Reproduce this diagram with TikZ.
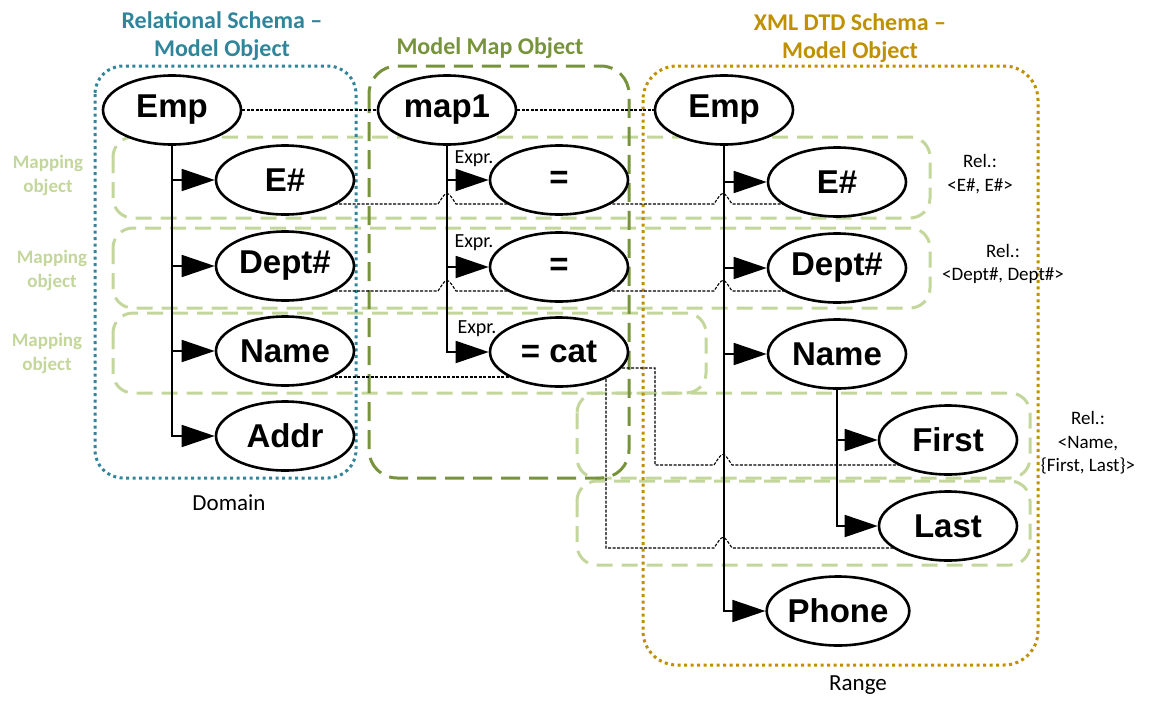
\documentclass[tikz,border=0pt]{standalone}
\usepackage{fontspec}
\setmainfont{Carlito}
\newfontfamily\scanfont{Liberation Sans}
\usetikzlibrary{shapes.geometric,arrows.meta,backgrounds}
\definecolor{relblue}{RGB}{49,133,155}
\definecolor{mapolive}{RGB}{119,147,60}
\definecolor{mapgreen}{RGB}{195,214,155}
\definecolor{xmlgold}{RGB}{191,144,0}

\begin{document}
\begin{tikzpicture}[x=1pt,y=-1pt, every node/.style={inner sep=0pt},
	elem/.style={ellipse,draw,line width=2.6pt,fill=white,minimum width=138pt,minimum height=69pt,
		font=\scanfont\bfseries\fontsize{33}{33}\selectfont},
	sub/.style={line width=1.8pt,-{Triangle[length=33pt,width=22pt]}},
	mapline/.style={line width=1.1pt,dash pattern=on 3pt off 1.5pt},
	mapbox/.style={draw=mapgreen,line width=3pt,dash pattern=on 16pt off 9pt,rounded corners=20pt},
	schema/.style={line width=3pt,rounded corners=28pt},
	ttl/.style={font=\bfseries\fontsize{24}{28}\selectfont,align=center},
	molbl/.style={font=\bfseries\fontsize{19}{24}\selectfont,align=center,mapgreen},
	lbl/.style={font=\fontsize{19}{23.5}\selectfont,align=center},
	expr/.style={font=\fontsize{20}{20}\selectfont}]
	\useasboundingbox (0,0) rectangle (1149,710);

	\node[elem] (rEmp)  at (172,110) {Emp};
	\node[elem] (rE)    at (285,180) {E\#};
	\node[elem] (rDept) at (285,266) {Dept\#};
	\node[elem] (rName) at (285,351) {Name};
	\node[elem] (rAddr) at (285,436) {Addr};

	\node[elem] (mMap) at (447,110) {map1};
	\node[elem] (mEq1) at (559,180) {=};
	\node[elem] (mEq2) at (559,267) {=};
	\node[elem] (mCat) at (559,352) {= cat};

	\node[elem] (lEmp)   at (724,110) {Emp};
	\node[elem] (lE)     at (837,182) {E\#};
	\node[elem] (lDept)  at (837,268) {Dept\#};
	\node[elem] (lName)  at (837,354) {Name};
	\node[elem] (lFirst) at (948,440) {First};
	\node[elem] (lLast)  at (948,526) {Last};
	\node[elem] (lPhone) at (838,611) {Phone};

	\draw[sub] (rEmp.south) |- (rE.west);
	\draw[sub] (rEmp.south) |- (rDept.west);
	\draw[sub] (rEmp.south) |- (rName.west);
	\draw[sub] (rEmp.south) |- (rAddr.west);
	\draw[sub] (mMap.south) |- (mEq1.west);
	\draw[sub] (mMap.south) |- (mEq2.west);
	\draw[sub] (mMap.south) |- (mCat.west);
	\draw[sub] (lEmp.south) |- (lE.west);
	\draw[sub] (lEmp.south) |- (lDept.west);
	\draw[sub] (lEmp.south) |- (lName.west);
	\draw[sub] (lEmp.south) |- (lPhone.west);
	\draw[sub] (lName.south) |- (lFirst.west);
	\draw[sub] (lName.south) |- (lLast.west);

	\node[expr] (x1) at (474,159) {Expr.};
	\node[expr] (x2) at (474,243) {Expr.};
	\node[expr] (x3) at (477,329) {Expr.};

	\node[ttl,relblue]  (tRel) at (222,36) {Relational Schema \textendash\\Model Object};
	\node[ttl,mapolive] (tMap) at (490,48) {Model Map Object};
	\node[ttl,xmlgold]  (tXml) at (850,38) {XML DTD Schema \textendash\\Model Object};

	\node[molbl] (mo1) at (48,175) {Mapping\\object};
	\node[molbl] (mo2) at (52,270) {Mapping\\object};
	\node[molbl] (mo3) at (47,353) {Mapping\\object};

	\node[lbl] (rel1) at (980,174) {Rel.:\\<E\#, E\#>};
	\node[lbl] (rel2) at (1003,264) {Rel.:\\<Dept\#, Dept\#>};
	\node[lbl] (rel3) at (1088,443) {Rel.:\\<Name,\\\{First, Last\}>};

	\node[lbl,font=\fontsize{23}{23}\selectfont] (dom) at (229,503) {Domain};
	\node[lbl,font=\fontsize{23}{23}\selectfont] (rng) at (858,685) {Range};

	\begin{pgfonlayer}{background}
		\draw[mapbox] (113,137) rectangle (930,218);
		\draw[mapbox] (113,228) rectangle (930,308);
		\draw[mapbox] (113,313) rectangle (706,393);
		\draw[mapbox] (577,393) rectangle (1030,478);
		\draw[mapbox] (577,481) rectangle (1030,565);
		\draw[schema,relblue,dash pattern=on 3pt off 3.5pt] (95,66) rectangle (356,478);
		\draw[schema,mapolive,dash pattern=on 19pt off 9pt] (369,66) rectangle (629,478);
		\draw[schema,xmlgold,dash pattern=on 3pt off 3.5pt,rounded corners=34pt] (643,66) rectangle (1038,665);

		\draw[mapline] (rEmp.east) -- (mMap.west);
		\draw[mapline] (mMap.east) -- (lEmp.west);
		\draw[mapline] (rE |- 0,204) -- (438,204) .. controls (447,190) .. (456,204)
			-- (714,204) .. controls (723,190) .. (732,204) -- (lE |- 0,204);
		\draw[mapline] (rDept |- 0,291) -- (438,291) .. controls (447,277) .. (456,291)
			-- (714,291) .. controls (723,277) .. (732,291) -- (lDept |- 0,291);
		\draw[mapline] (rName |- 0,377) -- (mCat |- 0,377);
		\draw[mapline] (mCat |- 0,368) -| (655,465) -- (714,465) .. controls (723,451) .. (732,465)
			-- (lFirst |- 0,465);
		\draw[mapline] ([xshift=47pt]mCat.center) |- (714,548) .. controls (723,534) .. (732,548)
			-- (lLast |- 0,548);
	\end{pgfonlayer}
\end{tikzpicture}
\end{document}
